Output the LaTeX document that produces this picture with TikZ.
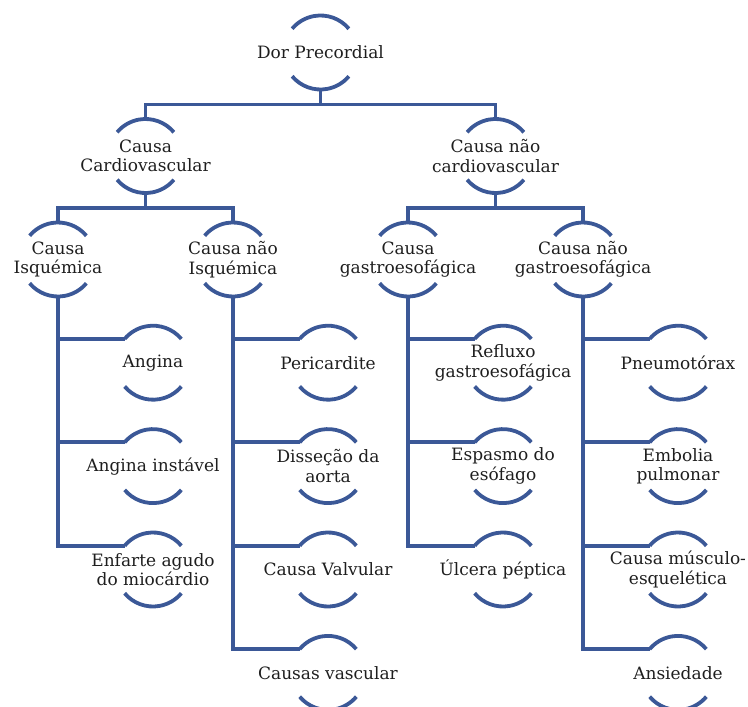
\documentclass[tikz,border=0pt]{standalone}
\usepackage{fontspec}
\setmainfont{DejaVu Serif}
\usetikzlibrary{calc}
\definecolor{chartblue}{RGB}{59,88,151}
\definecolor{chartink}{RGB}{30,30,30}

\begin{document}
\begin{tikzpicture}[x=1pt,y=1pt,
  link/.style={draw=chartblue, line width=3.8pt},
  lbl/.style={align=center, inner sep=0pt, minimum height=74pt, text=chartink, font=\fontsize{17}{19.5}\selectfont},
  halfcircle/.pic={
    \draw[link] (40:37) arc[start angle=40, end angle=140, radius=37];
    \draw[link] (220:37) arc[start angle=220, end angle=320, radius=37];
  }]
\useasboundingbox (0,0) rectangle (748,-707);

% top and middle levels
\node[lbl] (dor) at (320.5,-52.5) {Dor Precordial};
\node[lbl] (cardio) at (145.5,-156) {Causa\\Cardiovascular};
\node[lbl] (naocardio) at (495.5,-156) {Causa não\\cardiovascular};
\node[lbl] (isq) at (58,-259.5) {Causa\\Isquémica};
\node[lbl] (naoisq) at (233,-259.5) {Causa não\\Isquémica};
\node[lbl] (gastro) at (408,-259.5) {Causa\\gastroesofágica};
\node[lbl] (naogastro) at (583,-259.5) {Causa não\\gastroesofágica};

% leaves
\node[lbl] (angina) at (153,-362.7) {Angina};
\node[lbl] (instavel) at (153,-466.1) {Angina instável};
\node[lbl] (enfarte) at (153,-569.5) {Enfarte agudo\\do miocárdio};
\node[lbl] (pericard) at (328,-362.7) {Pericardite};
\node[lbl] (dissecao) at (328,-466.1) {Disseção da\\aorta};
\node[lbl] (valvular) at (328,-569.5) {Causa Valvular};
\node[lbl] (vascular) at (328,-672.9) {Causas vascular};
\node[lbl] (refluxo) at (503,-362.7) {Refluxo\\gastroesofágica};
\node[lbl] (espasmo) at (503,-466.1) {Espasmo do\\esófago};
\node[lbl] (ulcera) at (503,-569.5) {Úlcera péptica};
\node[lbl] (pneumo) at (678,-362.7) {Pneumotórax};
\node[lbl] (embolia) at (678,-466.1) {Embolia\\pulmonar};
\node[lbl] (musculo) at (678,-569.5) {Causa músculo-\\esquelética};
\node[lbl] (ansiedade) at (678,-672.9) {Ansiedade};

\pic at (dor) {halfcircle};
\pic at (cardio) {halfcircle};
\pic at (naocardio) {halfcircle};
\pic at (isq) {halfcircle};
\pic at (naoisq) {halfcircle};
\pic at (gastro) {halfcircle};
\pic at (naogastro) {halfcircle};
\pic at (angina) {halfcircle};
\pic at (instavel) {halfcircle};
\pic at (enfarte) {halfcircle};
\pic at (pericard) {halfcircle};
\pic at (dissecao) {halfcircle};
\pic at (valvular) {halfcircle};
\pic at (vascular) {halfcircle};
\pic at (refluxo) {halfcircle};
\pic at (espasmo) {halfcircle};
\pic at (ulcera) {halfcircle};
\pic at (pneumo) {halfcircle};
\pic at (embolia) {halfcircle};
\pic at (musculo) {halfcircle};
\pic at (ansiedade) {halfcircle};

% tree connectors
\draw[link] (dor.south) -- ++(0,-14.75) -| (cardio.north);
\draw[link] (dor.south) -- ++(0,-14.75) -| (naocardio.north);
\draw[link] (cardio.south) -- ++(0,-14.75) -| (isq.north);
\draw[link] (cardio.south) -- ++(0,-14.75) -| (naoisq.north);
\draw[link] (naocardio.south) -- ++(0,-14.75) -| (gastro.north);
\draw[link] (naocardio.south) -- ++(0,-14.75) -| (naogastro.north);

% side connectors to the leaves
\draw[link] (isq.south) |- ($(angina.center)+(140:37)$);
\draw[link] (isq.south) |- ($(instavel.center)+(140:37)$);
\draw[link] (isq.south) |- ($(enfarte.center)+(140:37)$);
\draw[link] (naoisq.south) |- ($(pericard.center)+(140:37)$);
\draw[link] (naoisq.south) |- ($(dissecao.center)+(140:37)$);
\draw[link] (naoisq.south) |- ($(valvular.center)+(140:37)$);
\draw[link] (naoisq.south) |- ($(vascular.center)+(140:37)$);
\draw[link] (gastro.south) |- ($(refluxo.center)+(140:37)$);
\draw[link] (gastro.south) |- ($(espasmo.center)+(140:37)$);
\draw[link] (gastro.south) |- ($(ulcera.center)+(140:37)$);
\draw[link] (naogastro.south) |- ($(pneumo.center)+(140:37)$);
\draw[link] (naogastro.south) |- ($(embolia.center)+(140:37)$);
\draw[link] (naogastro.south) |- ($(musculo.center)+(140:37)$);
\draw[link] (naogastro.south) |- ($(ansiedade.center)+(140:37)$);
\end{tikzpicture}
\end{document}
